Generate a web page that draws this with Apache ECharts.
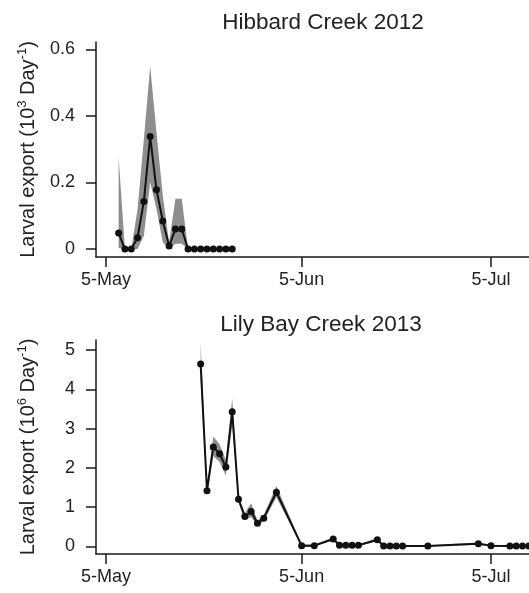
<!DOCTYPE html>
<html>
<head>
<meta charset="utf-8">
<script src="https://cdn.jsdelivr.net/npm/echarts@6/dist/echarts.min.js"></script>
<style>
  html, body { margin: 0; padding: 0; background: #fff; }
  #chart { width: 529px; height: 593px; }
</style>
</head>
<body>
<div id="chart"></div>
<script>
// Hibbard Creek 2012 (10^3 per day)
const hibDates = ['2012-05-07','2012-05-08','2012-05-09','2012-05-10','2012-05-11','2012-05-12','2012-05-13',
    '2012-05-14','2012-05-15','2012-05-16','2012-05-17','2012-05-18','2012-05-19','2012-05-20','2012-05-21',
    '2012-05-22','2012-05-23','2012-05-24','2012-05-25'];
const hibValues = [0.048, 0, 0, 0.034, 0.143, 0.338, 0.178, 0.084, 0.009, 0.06, 0.06, 0, 0, 0, 0, 0, 0, 0, 0];
const hibLower  = [0.003, 0, 0, 0, 0.04, 0.20, 0.12, 0.02, 0, 0.016, 0.016, 0, 0, 0, 0, 0, 0, 0, 0];
const hibUpper  = [0.276, 0, 0, 0.12, 0.33, 0.55, 0.35, 0.16, 0.02, 0.151, 0.151, 0, 0, 0, 0, 0, 0, 0, 0];

// Lily Bay Creek 2013 (10^6 per day)
const lilyDates = ['2013-05-20','2013-05-21','2013-05-22','2013-05-23','2013-05-24','2013-05-25','2013-05-26',
    '2013-05-27','2013-05-28','2013-05-29','2013-05-30','2013-06-01','2013-06-05','2013-06-07','2013-06-10',
    '2013-06-11','2013-06-12','2013-06-13','2013-06-14','2013-06-17','2013-06-18','2013-06-19','2013-06-20',
    '2013-06-21','2013-06-25','2013-07-03','2013-07-05','2013-07-08','2013-07-09','2013-07-10','2013-07-11'];
const lilyValues = [4.64, 1.42, 2.53, 2.36, 2.02, 3.43, 1.20, 0.76, 0.89, 0.59, 0.72, 1.38, 0.02, 0.02, 0.19,
    0.03, 0.03, 0.03, 0.03, 0.17, 0.01, 0.01, 0.01, 0.01, 0.01, 0.07, 0.02, 0.01, 0.01, 0.01, 0.01];
const lilyLower  = [4.20, 1.30, 2.30, 2.15, 1.80, 3.10, 1.12, 0.68, 0.75, 0.52, 0.65, 1.25, 0.0, 0.0, 0.15,
    0.01, 0.01, 0.01, 0.01, 0.13, 0, 0, 0, 0, 0, 0.04, 0, 0, 0, 0, 0];
const lilyUpper  = [5.17, 1.55, 2.80, 2.60, 2.20, 3.77, 1.28, 0.85, 1.10, 0.66, 0.80, 1.54, 0.05, 0.05, 0.23,
    0.05, 0.05, 0.05, 0.05, 0.21, 0.03, 0.03, 0.03, 0.03, 0.03, 0.10, 0.04, 0.03, 0.03, 0.03, 0.03];

// x tick labels (days after 5 May)
const xTickDays = [0, 31, 61];
const xTickLabels = ['5-May', '5-Jun', '5-Jul'];

const DAY = 86400000;

// date string -> days since 5 May of that year
function dayOf(s) {
    const p = s.split('-').map(Number);
    return Math.round((Date.UTC(p[0], p[1] - 1, p[2]) - Date.UTC(p[0], 4, 5)) / DAY);
}
function pairs(dates, vals) {
    return dates.map((d, i) => [dayOf(d), vals[i]]);
}

const FONT = 'Liberation Sans, Arial, sans-serif';
const axisCol = '#1a1a1a';

function xAxisFor(gridIndex) {
    return {
        type: 'value',
        gridIndex: gridIndex,
        min: -1.585,
        max: 67.03,
        axisLine: { show: true, onZero: false, lineStyle: { color: axisCol, width: 1.5 } },
        axisTick: { show: true, length: 10, lineStyle: { color: axisCol, width: 1.5 }, customValues: xTickDays },
        axisLabel: { fontFamily: FONT, fontSize: 18, color: '#222', margin: 14, customValues: xTickDays,
            formatter: (v) => xTickLabels[xTickDays.indexOf(Math.round(v))] || '' },
        splitLine: { show: false }
    };
}

function yAxisFor(gridIndex, min, max, ticks, power) {
    return {
        type: 'value',
        gridIndex: gridIndex,
        min: min,
        max: max,
        axisLine: { show: true, onZero: false, lineStyle: { color: axisCol, width: 1.5 } },
        axisTick: { show: true, length: 10, lineStyle: { color: axisCol, width: 1.5 }, customValues: ticks },
        axisLabel: { fontFamily: FONT, fontSize: 18, color: '#222', margin: 21, customValues: ticks,
            formatter: (v) => String(+v.toFixed(2)) },
        splitLine: { show: false },
        name: '{t|Larval export (10}{s|' + power + '}{t| Day}{s|-1}{t|)}',
        nameLocation: 'middle',
        nameRotate: 90,
        nameGap: 56,
        nameTextStyle: {
            rich: {
                t: { fontFamily: FONT, fontSize: 20, color: '#222', lineHeight: 24 },
                s: { fontFamily: FONT, fontSize: 13, color: '#222', lineHeight: 24, verticalAlign: 'top' }
            }
        }
    };
}

// confidence band drawn as one polygon: upper limits forward, lower limits back
function bandSeries(idx, dates, lower, upper) {
    return {
        type: 'custom', xAxisIndex: idx, yAxisIndex: idx,
        data: dates.map((d, i) => [dayOf(d), lower[i], upper[i]]),
        encode: { x: 0, y: [1, 2] },
        silent: true, z: 1,
        renderItem: (params, api) => {
            if (params.dataIndex !== 0) return null;
            const top = [], bottom = [];
            dates.forEach((d, i) => {
                top.push(api.coord([dayOf(d), upper[i]]));
                bottom.unshift(api.coord([dayOf(d), lower[i]]));
            });
            return {
                type: 'polygon',
                shape: { points: top.concat(bottom) },
                style: { fill: '#8e8e8e' }
            };
        }
    };
}

function mainSeries(idx, dates, vals) {
    return {
        type: 'line', xAxisIndex: idx, yAxisIndex: idx,
        data: pairs(dates, vals),
        symbol: 'circle', symbolSize: 7,
        itemStyle: { color: '#111' },
        lineStyle: { color: '#111', width: 2 },
        z: 3
    };
}

const chart = echarts.init(document.getElementById('chart'), null, { renderer: 'canvas' });
chart.setOption({
    animation: false,
    backgroundColor: '#fff',
    title: [
        { text: 'Hibbard Creek 2012', left: 318, top: 6, textAlign: 'center',
          textStyle: { fontFamily: FONT, fontSize: 22.5, fontWeight: 'normal', color: '#222' } },
        { text: 'Lily Bay Creek 2013', left: 316, top: 308, textAlign: 'center',
          textStyle: { fontFamily: FONT, fontSize: 22.5, fontWeight: 'normal', color: '#222' } }
    ],
    grid: [
        { left: 96, top: 42, right: 0, height: 215 },
        { left: 96, top: 340, right: 0, height: 214 }
    ],
    xAxis: [xAxisFor(0), xAxisFor(1)],
    yAxis: [
        yAxisFor(0, -0.024, 0.622, [0, 0.2, 0.4, 0.6], 3),
        yAxisFor(1, -0.193, 5.254, [0, 1, 2, 3, 4, 5], 6)
    ],
    series: [
        bandSeries(0, hibDates, hibLower, hibUpper),
        mainSeries(0, hibDates, hibValues),
        bandSeries(1, lilyDates, lilyLower, lilyUpper),
        mainSeries(1, lilyDates, lilyValues)
    ]
});
</script>
</body>
</html>
